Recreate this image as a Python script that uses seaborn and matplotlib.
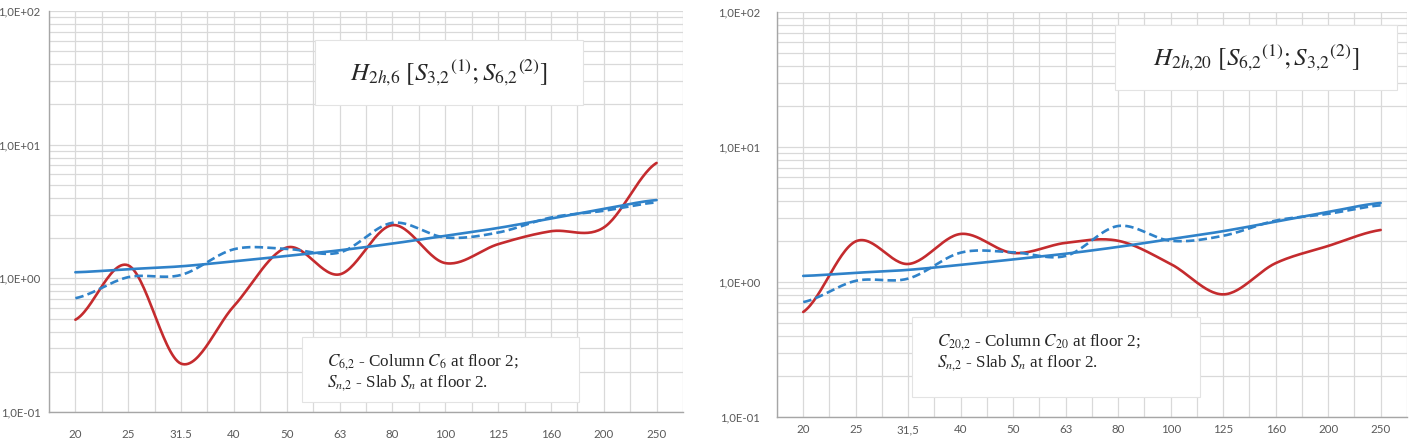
"""
    plot.py
    Transfer function plots for two columns (log scale, smoothed lines).
"""
import numpy as np
import pandas as pd
import seaborn as sns
import matplotlib
matplotlib.use('Agg')
import matplotlib.pyplot as plt
from matplotlib.patches import Rectangle
from matplotlib.ticker import LogLocator, FuncFormatter, FixedLocator, NullFormatter

#################################################################################
# Data
#################################################################################

FREQS = ['20', '25', '31,5', '40', '50', '63', '80', '100', '125', '160', '200', '250']

# Slab data (dashed) and trend (solid blue), same in both panels.
slab_data = [0.71, 1.02, 1.06, 1.65, 1.66, 1.56, 2.6, 2.02, 2.2, 2.85, 3.2, 3.7]
slab_trend = [1.11, 1.17, 1.23, 1.34, 1.47, 1.62, 1.82, 2.08, 2.38, 2.8, 3.3, 3.85]

# Column response (solid red).
col_c6 = [0.49, 1.25, 0.23, 0.62, 1.7, 1.07, 2.5, 1.3, 1.8, 2.25, 2.4, 7.3]
col_c20 = [0.60, 2.0, 1.36, 2.27, 1.64, 1.95, 2.02, 1.36, 0.81, 1.38, 1.85, 2.43]

TITLES = [r'$H_{2h{,}6}\ [S_{3{,}2}{}^{(1)}; S_{6{,}2}{}^{(2)}]$',
          r'$H_{2h{,}20}\ [S_{6{,}2}{}^{(1)}; S_{3{,}2}{}^{(2)}]$']
NOTES = [[r'$C_{6{,}2}$ - Column $C_6$ at floor 2;', r'$S_{n{,}2}$ - Slab $S_n$ at floor 2.'],
         [r'$C_{20{,}2}$ - Column $C_{20}$ at floor 2;', r'$S_{n{,}2}$ - Slab $S_n$ at floor 2.']]

RED = '#C42B2E'
BLUE = '#2F82C9'

#################################################################################
# Helpers
#################################################################################

def smooth(values, n=30):
    # Catmull-Rom curve through points in (index, log10) space, like Excel smoothing.
    y = np.log10(np.asarray(values, dtype=float))
    x = np.arange(len(y), dtype=float)
    yp = np.concatenate([[y[0]], y, [y[-1]]])
    xs, ys = [], []
    for i in range(len(y) - 1):
        p0, p1, p2, p3 = yp[i], yp[i + 1], yp[i + 2], yp[i + 3]
        t = np.linspace(0, 1, n, endpoint=False)
        seg = 0.5 * ((2 * p1) + (-p0 + p2) * t + (2 * p0 - 5 * p1 + 4 * p2 - p3) * t ** 2
                     + (-p0 + 3 * p1 - 3 * p2 + p3) * t ** 3)
        xs.append(x[i] + t)
        ys.append(seg)
    xs.append([x[-1]])
    ys.append([y[-1]])
    return np.concatenate(xs), 10 ** np.concatenate(ys)


def make_df(series):
    rows = []
    for name, vals in series.items():
        xs, ys = smooth(vals)
        rows.append(pd.DataFrame({'x': xs, 'y': ys, 'series': name}))
    return pd.concat(rows, ignore_index=True)

#################################################################################
# Plotting
#################################################################################

def main():
    sns.set_style('white')
    plt.rcParams['mathtext.fontset'] = 'stix'
    plt.rcParams['font.family'] = ['Liberation Serif', 'DejaVu Sans']

    fig = plt.figure(figsize=(14.15, 4.38), dpi=100)
    axes = [fig.add_axes([0.0346, 0.0594, 0.4481, 0.9155]),
            fig.add_axes([0.5491, 0.0479, 0.4452, 0.9247])]

    columns = [col_c6, col_c20]
    xpads = [12, 5]
    title_boxes = [(315, 40, 268, 65), (1115, 25, 282, 65)]
    note_boxes = [(302, 337, 277, 65), (912, 317, 288, 80)]

    for i, ax in enumerate(axes):
        df = make_df({'column': columns[i], 'data': slab_data, 'trend': slab_trend})
        sns.lineplot(data=df, x='x', y='y', hue='series', style='series',
                     palette={'column': RED, 'data': BLUE, 'trend': BLUE},
                     dashes={'column': '', 'data': (3.2, 1.6), 'trend': ''},
                     linewidth=1.9, sort=False, estimator=None, legend=False,
                     ax=ax, zorder=5)

        # Log y axis 0.1 .. 100.
        ax.set_yscale('log')
        ax.set_ylim(0.1, 100)
        ax.set_xlim(-0.5, 11.5)
        ax.yaxis.set_major_locator(LogLocator(base=10, numticks=10))
        ax.yaxis.set_minor_locator(LogLocator(base=10, subs=np.arange(2, 10), numticks=20))
        ax.yaxis.set_minor_formatter(NullFormatter())
        ax.yaxis.set_major_formatter(
            FuncFormatter(lambda v, p: f'{v:.1E}'.replace('.', ',')))

        # Category x axis with gridlines at centres and boundaries.
        ax.set_xticks(range(len(FREQS)))
        ax.set_xticklabels(FREQS)
        ax.xaxis.set_minor_locator(FixedLocator(np.arange(-0.5, 12, 1.0)))

        ax.grid(True, which='both', color='#D9D9D9', linewidth=0.9)
        ax.set_axisbelow(True)
        ax.tick_params(axis='x', which='major', length=0, pad=xpads[i],
                       labelsize=8.3, labelcolor='#595959')
        ax.tick_params(axis='x', which='minor', length=4, color='#A6A6A6', width=0.9)
        ax.tick_params(axis='y', which='major', length=4, color='#A6A6A6', width=0.9,
                       pad=2 if i == 0 else 8, labelsize=8.2, labelcolor='#595959')
        ax.tick_params(axis='y', which='minor', length=0)
        for lab in ax.get_xticklabels() + ax.get_yticklabels():
            lab.set_family(['Lato', 'DejaVu Sans'])
        for side in ['top', 'right']:
            ax.spines[side].set_visible(False)
        for side in ['left', 'bottom']:
            ax.spines[side].set_color('#A6A6A6')
            ax.spines[side].set_linewidth(1.0)
        ax.set_xlabel('')
        ax.set_ylabel('')

    # Text boxes in pixel coordinates of the figure.
    W, H = 1415, 438

    def box(x, y, w, h):
        fig.patches.append(Rectangle((x / W, 1 - (y + h) / H), w / W, h / H,
                                     transform=fig.transFigure, facecolor='white',
                                     edgecolor='#E3E3E3', linewidth=0.8, zorder=3))

    for i in range(2):
        x, y, w, h = title_boxes[i]
        box(x, y, w, h)
        fig.text((x + w / 2) / W, 1 - (y + h / 2) / H, TITLES[i], fontsize=18,
                 ha='center', va='center', zorder=4)
        x, y, w, h = note_boxes[i]
        box(x, y, w, h)
        tx = x + 25
        fig.text(tx / W, 1 - (y + 25) / H, NOTES[i][0], fontsize=12.3,
                 ha='left', va='center', zorder=4)
        fig.text(tx / W, 1 - (y + 46) / H, NOTES[i][1], fontsize=12.3,
                 ha='left', va='center', zorder=4)

    plt.savefig('out.png', dpi=100)


if __name__ == '__main__':
    main()
